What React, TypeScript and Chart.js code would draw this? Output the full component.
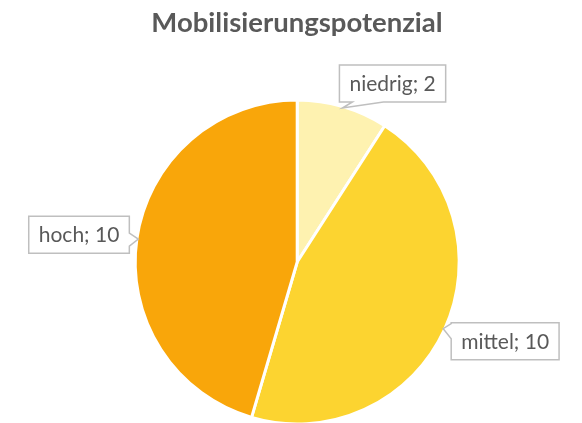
import React, { useEffect, useRef } from "react";
import { Chart, registerables } from "chart.js";

Chart.register(...registerables);

const categories = ["niedrig", "mittel", "hoch"];
const values = [2, 10, 10];
const colors = ["#FEF2B0", "#FCD430", "#F9A60A"];
const titleText = "Mobilisierungspotenzial";

const FONT = "Lato, 'Open Sans', sans-serif";

type CalloutCfg = { side: "bottom" | "left" | "right"; dx: number; dy: number; p0: number; p1: number };
const callouts: CalloutCfg[] = [
  { side: "bottom", dx: -3, dy: -6, p0: 13, p1: 44 },
  { side: "left", dx: 8, dy: -6, p0: 1, p1: 16 },
  { side: "right", dx: -9, dy: -23, p0: 17, p1: 30 },
];

const labelPlugin = {
  id: "calloutLabels",
  afterDraw(chart: any) {
    const ctx = chart.ctx as CanvasRenderingContext2D;
    ctx.save();
    ctx.font = `bold 27.5px ${FONT}`;
    ctx.fillStyle = "#595959";
    ctx.textAlign = "center";
    ctx.textBaseline = "middle";
    ctx.fillText(titleText, 297, 23);
    ctx.restore();

    const meta = chart.getDatasetMeta(0);
    meta.data.forEach((arc: any, i: number) => {
      const { x, y, startAngle, endAngle, outerRadius } = arc.getProps(
        ["x", "y", "startAngle", "endAngle", "outerRadius"],
        true
      );
      const mid = (startAngle + endAngle) / 2;
      const tx = x + Math.cos(mid) * (outerRadius - 1.5);
      const ty = y + Math.sin(mid) * (outerRadius - 1.5);
      const text = `${categories[i]}; ${values[i]}`;
      ctx.save();
      ctx.font = `21px ${FONT}`;
      const tw = ctx.measureText(text).width;
      const w = tw + 20;
      const h = 37;
      const c = callouts[i];
      let left = 0, top = 0;
      if (c.side === "bottom") {
        left = tx + c.dx;
        top = ty + c.dy - h;
      } else if (c.side === "left") {
        left = tx + c.dx;
        top = ty + c.dy;
      } else {
        left = tx + c.dx - w;
        top = ty + c.dy;
      }
      const r = left + w, b = top + h;
      ctx.beginPath();
      ctx.moveTo(left, top);
      if (c.side === "left") {
        ctx.lineTo(r, top);
        ctx.lineTo(r, b);
        ctx.lineTo(left, b);
        ctx.lineTo(left, top + c.p1);
        ctx.lineTo(tx, ty);
        ctx.lineTo(left, top + c.p0);
        ctx.closePath();
      } else if (c.side === "right") {
        ctx.lineTo(r, top);
        ctx.lineTo(r, top + c.p0);
        ctx.lineTo(tx, ty);
        ctx.lineTo(r, top + c.p1);
        ctx.lineTo(r, b);
        ctx.lineTo(left, b);
        ctx.closePath();
      } else {
        ctx.lineTo(r, top);
        ctx.lineTo(r, b);
        ctx.lineTo(left + c.p1, b);
        ctx.lineTo(tx, ty);
        ctx.lineTo(left + c.p0, b);
        ctx.lineTo(left, b);
        ctx.closePath();
      }
      ctx.fillStyle = "#FFFFFF";
      ctx.fill();
      ctx.strokeStyle = "#BFBFBF";
      ctx.lineWidth = 1.5;
      ctx.stroke();
      ctx.fillStyle = "#595959";
      ctx.textAlign = "center";
      ctx.textBaseline = "middle";
      ctx.fillText(text, left + w / 2, top + h / 2 + 1);
      ctx.restore();
    });
  },
};

export default function App() {
  const ref = useRef<HTMLCanvasElement | null>(null);
  useEffect(() => {
    if (!ref.current) return;
    const chart = new Chart(ref.current, {
      type: "pie",
      data: {
        labels: categories,
        datasets: [
          {
            data: values,
            backgroundColor: colors,
            borderColor: "#FFFFFF",
            borderWidth: 3,
          },
        ],
      },
      options: {
        responsive: false,
        animation: false,
        layout: { padding: { top: 98.5, bottom: 4.5, left: 98, right: 85.6 } },
        plugins: {
          legend: { display: false },
          title: { display: false },
          tooltip: { enabled: false },
        },
      },
      plugins: [labelPlugin],
    });
    return () => chart.destroy();
  }, []);
  return (
    <div style={{ position: "absolute", left: 0, top: 0, width: 582, height: 423, overflow: "hidden", background: "#fff" }}>
      <canvas ref={ref} width={582} height={430} style={{ width: 582, height: 430, display: "block" }} />
    </div>
  );
}
